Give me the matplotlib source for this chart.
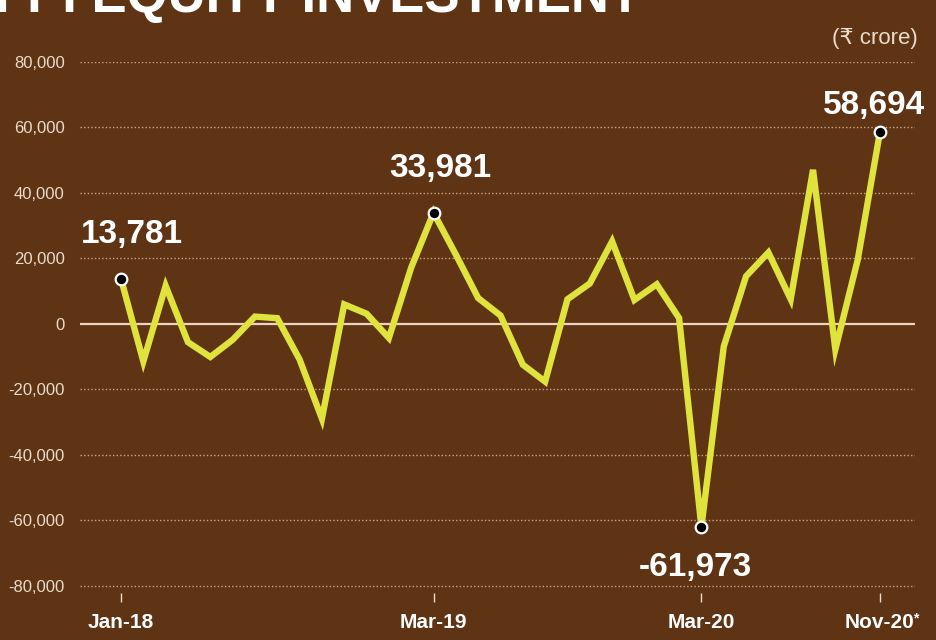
#!/usr/bin/env python3
# --------------------------------- imports ---------------------------------- #
import numpy as np
import matplotlib
matplotlib.use('Agg')
import matplotlib.pyplot as plt
from matplotlib.ticker import FuncFormatter

# ---------------------------------- data ------------------------------------ #
months = ['Jan-18', 'Feb-18', 'Mar-18', 'Apr-18', 'May-18', 'Jun-18', 'Jul-18',
          'Aug-18', 'Sep-18', 'Oct-18', 'Nov-18', 'Dec-18', 'Jan-19', 'Feb-19',
          'Mar-19', 'Apr-19', 'May-19', 'Jun-19', 'Jul-19', 'Aug-19', 'Sep-19',
          'Oct-19', 'Nov-19', 'Dec-19', 'Jan-20', 'Feb-20', 'Mar-20', 'Apr-20',
          'May-20', 'Jun-20', 'Jul-20', 'Aug-20', 'Sep-20', 'Oct-20', 'Nov-20']
fpi_equity = [13781, -11423, 11654, -5552, -10060, -4831, 2264,
              1775, -10825, -28921, 5981, 3143, -4262, 17220,
              33981, 21193, 7920, 2596, -12419, -17592, 7548,
              12368, 25230, 7338, 12123, 1820, -61973, -6884,
              14569, 21832, 7563, 47080, -7783, 19541, 58694]
tick_months = ['Jan-18', 'Mar-19', 'Mar-20', 'Nov-20']
callouts = ['Jan-18', 'Mar-19', 'Mar-20', 'Nov-20']
y_ticks = [-80000, -60000, -40000, -20000, 0, 20000, 40000, 60000, 80000]

# --------------------------------- styles ----------------------------------- #
BG = '#5f3414'
LINE = '#dfe33c'
GRID = '#c9a585'
TXT = '#eadbcb'
plt.rcParams['font.family'] = ['Liberation Sans', 'DejaVu Sans']

fig = plt.figure(figsize=(9.36, 6.4), dpi=100, facecolor=BG)
W, H = 936, 640
x0, x1 = 80, 915      # pixel span of the plot area
y_lo, y_hi = 586, 62  # pixel rows of -80,000 and 80,000
y_bot = 593           # axes bottom sits a bit under the -80,000 line
ax = fig.add_axes([x0 / W, 1 - y_bot / H, (x1 - x0) / W, (y_bot - y_hi) / H])
ax.set_facecolor(BG)

idx = np.arange(len(months))
px_per_month = (880 - 121) / 34
ax.set_xlim(-(121 - x0) / px_per_month, 34 + (x1 - 880) / px_per_month)
unit_per_px = 160000 / (y_lo - y_hi)
ax.set_ylim(-80000 - (y_bot - y_lo) * unit_per_px, 80000)

# ------------------------------ grid and zero ------------------------------- #
for v in y_ticks:
    if v == 0:
        ax.axhline(v, color='#ead3c3', lw=1.6, zorder=1)
    else:
        ax.axhline(v, color=GRID, lw=1.0, ls=(0, (1, 1.6)), zorder=1)

# ---------------------------------- line ------------------------------------ #
ax.plot(idx, fpi_equity, color=LINE, lw=4.6, solid_joinstyle='miter',
        zorder=3)

offsets = {'Jan-18': (8, 26), 'Mar-19': (5, 26), 'Mar-20': (-4, -35),
           'Nov-20': (-4, 13)}
for m in callouts:
    i = months.index(m)
    v = fpi_equity[i]
    ax.scatter(i, v, s=70, color='black', edgecolor='white', linewidth=1.6,
               zorder=5)
    ax.annotate('{:,}'.format(v), (i, v), xytext=offsets[m],
                textcoords='offset points', ha='center', va='baseline',
                color='white', fontsize=24, fontweight='bold', zorder=6)

# ---------------------------------- axes ------------------------------------ #
for s in ax.spines.values():
    s.set_visible(False)
ax.set_yticks(y_ticks)
ax.yaxis.set_major_formatter(FuncFormatter(lambda v, p: '{:,}'.format(int(v))))
ax.tick_params(axis='y', length=0, pad=11, labelsize=12, labelcolor=TXT)
ax.set_xticks([months.index(m) for m in tick_months])
ax.set_xticklabels(tick_months)
ax.tick_params(axis='x', length=6.5, width=1, color=TXT, direction='out',
               pad=8, labelsize=15, labelcolor='white')
for t in ax.get_xticklabels():
    t.set_fontweight('bold')

# footnote mark on the last month label
ax.annotate('*', (idx[-1], 0), xycoords=('data', 'axes fraction'),
            xytext=(24, -18), textcoords='offset points', ha='left',
            va='center', color='white', fontsize=10, fontweight='bold')

# ---------------------------- titles & misc --------------------------------- #
fig.text(-0.005, 1 - 12 / H, 'FPI EQUITY INVESTMENT', color='white',
         fontsize=38, fontweight='bold', ha='left', va='baseline')
fig.text(918 / W, 1 - 44 / H, '(\u20b9 crore)', color=TXT, fontsize=16,
         ha='right', va='baseline')

fig.savefig('out.png', dpi=100, facecolor=BG)
